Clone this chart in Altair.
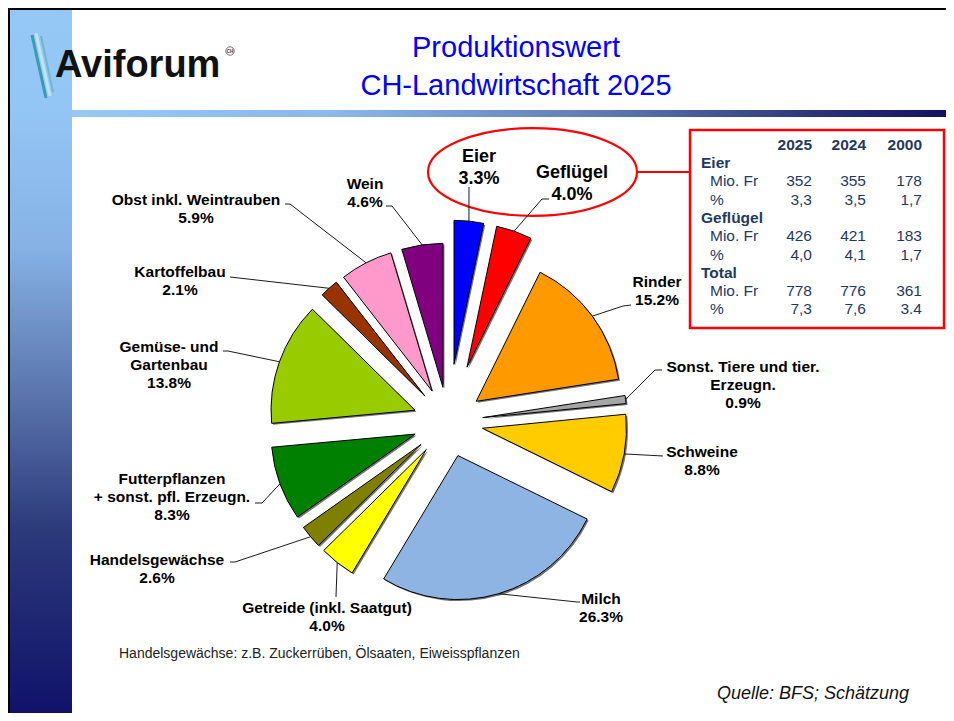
import altair as alt
import pandas as pd

# ---------------- data ----------------
categories = ["Eier", "Geflügel", "Rinder", "Sonst. Tiere und tier. Erzeugn.", "Schweine", "Milch",
              "Getreide (inkl. Saatgut)", "Handelsgewächse", "Futterpflanzen + sonst. pfl. Erzeugn.",
              "Gemüse- und Gartenbau", "Kartoffelbau", "Obst inkl. Weintrauben", "Wein"]
shares = [3.3, 4.0, 15.2, 0.9, 8.8, 26.3, 4.0, 2.6, 8.3, 13.8, 2.1, 5.9, 4.6]
label_names = ["Eier", "Geflügel", "Rinder", "Sonst. Tiere und tier.\nErzeugn.", "Schweine", "Milch",
               "Getreide (inkl. Saatgut)", "Handelsgewächse", "Futterpflanzen\n+ sonst. pfl. Erzeugn.",
               "Gemüse- und\nGartenbau", "Kartoffelbau", "Obst inkl. Weintrauben", "Wein"]

table_years = ["2025", "2024", "2000"]
table_groups = ["Eier", "Geflügel", "Total"]
table_units = ["Mio. Fr", "%"]
table_mio = [["352", "355", "178"], ["426", "421", "183"], ["778", "776", "361"]]
table_pct = [["3,3", "3,5", "1,7"], ["4,0", "4,1", "1,7"], ["7,3", "7,6", "3.4"]]

title_text = "Produktionswert\nCH-Landwirtschaft 2025"
footnote = "Handelsgewächse: z.B. Zuckerrüben, Ölsaaten, Eiweisspflanzen"
source = "Quelle: BFS; Schätzung"
logo = "Aviforum"

# ---------------- styles / layout ----------------
OFF = 8
W, H = 938, 705
slice_colors = ["#0000FF", "#FF0000", "#FF9900", "#A6A6A6", "#FFCC00", "#8DB4E2", "#FFFF00",
                "#808000", "#008000", "#99CC00", "#993300", "#FF99CC", "#800080"]
explode = [58, 58, 35, 35, 35, 35, 35, 35, 35, 35, 35, 35, 35]
big_label = [True, True] + [False] * 11
label_pos = [(479, 162), (572, 178), (657, 287), (743, 372), (702, 457), (601, 604), (327, 613),
             (157, 565), (172, 484), (169, 352), (180, 277), (196, 205), (365, 189)]
elbow_pos = [(469, 187), (542, 199), (623, 306), (655, 370), (663, 456), (577, 602), (336, 597),
             (235, 562), (262, 503), (228, 351), (230, 277), (290, 204), (392, 206)]
end_pos = [(469, 187), (549, 199), (631, 305), (662, 370), (663, 456), (580, 602), (336, 597),
           (230, 562), (255, 503), (223, 351), (230, 277), (285, 204), (386, 206)]
CX, CY, R = 448 - OFF, 422 - OFF, 144

pie_df = pd.DataFrame({
    "order": list(range(len(categories))),
    "category": categories,
    "share": shares,
    "label": [f"{n}\n{s:.1f}%" for n, s in zip(label_names, shares)],
    "color": slice_colors,
    "explode": explode,
    "big": big_label,
    "lx": [p[0] - OFF for p in label_pos], "ly": [p[1] - OFF for p in label_pos],
    "ex": [p[0] - OFF for p in elbow_pos], "ey": [p[1] - OFF for p in elbow_pos],
    "hx": [p[0] - OFF for p in end_pos], "hy": [p[1] - OFF for p in end_pos],
})

base = (
    alt.Chart(pie_df)
    .transform_window(cum="sum(share)", sort=[alt.SortField("order", order="ascending")], frame=[None, 0])
    .transform_joinaggregate(total="sum(share)")
    .transform_calculate(t0="2*PI*(datum.cum-datum.share)/datum.total",
                         t1="2*PI*datum.cum/datum.total")
    .transform_calculate(mid="(datum.t0+datum.t1)/2")
    .transform_calculate(cx=f"{CX}+datum.explode*sin(datum.mid)",
                         cy=f"{CY}-datum.explode*cos(datum.mid)",
                         sx=f"{CX}+(datum.explode+{R})*sin(datum.mid)",
                         sy=f"{CY}-(datum.explode+{R})*cos(datum.mid)")
)

pos = dict(x=alt.X("cx:Q", scale=None, axis=None), y=alt.Y("cy:Q", scale=None, axis=None),
           theta=alt.Theta("t0:Q", scale=None, stack=None), theta2="t1:Q")

shadow = base.mark_arc(radius=R, fill="#000000", opacity=0.55, xOffset=1.5, yOffset=1.5).encode(**pos)
arcs = base.mark_arc(radius=R, stroke="#000000", strokeWidth=1).encode(
    **pos, fill=alt.Fill("color:N", scale=None))

lead1 = base.mark_rule(color="#000000", strokeWidth=0.9).encode(
    x=alt.X("sx:Q", scale=None, axis=None), y=alt.Y("sy:Q", scale=None, axis=None),
    x2="ex:Q", y2="ey:Q")
lead2 = base.mark_rule(color="#000000", strokeWidth=0.9).encode(
    x=alt.X("ex:Q", scale=None, axis=None), y=alt.Y("ey:Q", scale=None, axis=None),
    x2="hx:Q", y2="hy:Q")

lab_enc = dict(x=alt.X("lx:Q", scale=None, axis=None), y=alt.Y("ly:Q", scale=None, axis=None),
               text="label:N")
labels_small = base.transform_filter("!datum.big").mark_text(
    font="Liberation Sans", fontWeight="bold", fontSize=15.5, lineHeight=18, lineBreak="\n",
    align="center", baseline="alphabetic", color="#000000").encode(**lab_enc)
labels_big = base.transform_filter("datum.big").mark_text(
    font="Liberation Sans", fontWeight="bold", fontSize=18, lineHeight=22, lineBreak="\n",
    align="center", baseline="alphabetic", color="#000000").encode(**lab_enc)

# ---------------- table ----------------
TC = "#1F3A60"
col_right = [812 - OFF, 866 - OFF, 922 - OFF]
rows = []
for j, yr in enumerate(table_years):
    rows.append({"t": yr, "x": col_right[j], "y": 150 - OFF, "kind": "bold_r"})
line = 0
for g, name in enumerate(table_groups):
    y0 = 168 + line * 18.3
    rows.append({"t": name, "x": 701 - OFF, "y": y0 - OFF, "kind": "bold_l"})
    line += 1
    for u, vals in zip(table_units, [table_mio[g], table_pct[g]]):
        y = 168 + line * 18.3
        rows.append({"t": u, "x": 710 - OFF, "y": y - OFF, "kind": "norm_l"})
        for j, v in enumerate(vals):
            rows.append({"t": v, "x": col_right[j], "y": y - OFF, "kind": "norm_r"})
        line += 1
table_df = pd.DataFrame(rows)

tbase = alt.Chart(table_df)
tenc = dict(x=alt.X("x:Q", scale=None, axis=None), y=alt.Y("y:Q", scale=None, axis=None), text="t:N")
tlayers = []
for kind, weight, align in [("bold_r", "bold", "right"), ("bold_l", "bold", "left"),
                            ("norm_l", "normal", "left"), ("norm_r", "normal", "right")]:
    tlayers.append(tbase.transform_filter(f"datum.kind == '{kind}'").mark_text(
        font="Liberation Sans", fontWeight=weight, fontSize=15.5, align=align,
        baseline="alphabetic", color=TC).encode(**tenc))

# ---------------- decorations ----------------
one = pd.DataFrame({"k": [0]})


def rect(x, x2, y, y2, **kw):
    return alt.Chart(one).mark_rect(**kw).encode(
        x=alt.value(x), x2=alt.value(x2), y=alt.value(y), y2=alt.value(y2))


def rule(x, y, x2, y2, **kw):
    return alt.Chart(one).mark_rule(**kw).encode(
        x=alt.value(x), y=alt.value(y), x2=alt.value(x2), y2=alt.value(y2))


def text(x, y, s, **kw):
    return alt.Chart(one).mark_text(**kw).encode(x=alt.value(x), y=alt.value(y), text=alt.value(s))


left_grad = alt.LinearGradient(
    gradient="linear", x1=0, x2=0, y1=0, y2=1,
    stops=[alt.GradientStop(color="#96C8F6", offset=0.0),
           alt.GradientStop(color="#94C6F5", offset=0.14),
           alt.GradientStop(color="#86B2E6", offset=0.34),
           alt.GradientStop(color="#5A74AD", offset=0.55),
           alt.GradientStop(color="#2C3A7A", offset=0.74),
           alt.GradientStop(color="#10126A", offset=1.0)])
top_grad = alt.LinearGradient(
    gradient="linear", x1=0, x2=1, y1=0, y2=0,
    stops=[alt.GradientStop(color="#96C8F6", offset=0.0),
           alt.GradientStop(color="#8AB8E8", offset=0.3),
           alt.GradientStop(color="#5F7CB2", offset=0.6),
           alt.GradientStop(color="#2A3577", offset=0.85),
           alt.GradientStop(color="#12125F", offset=1.0)])

deco = [
    rect(0, W, 0, H, fill="#FFFFFF", strokeWidth=0),
    rect(2, 64, 0, H, fill=left_grad, strokeWidth=0),
    rect(64, W, 102, 109, fill=top_grad, strokeWidth=0),
    rect(0, W, 0, 2, fill="#000000", strokeWidth=0),
    rect(0, 2, 0, H, fill="#000000", strokeWidth=0),
    # feather-like strokes of the logo
    rule(24, 27, 38, 90, color="#3A9BB0", strokeWidth=3),
    rule(28, 25, 42, 88, color="#BFE3F0", strokeWidth=3),
    rule(33, 28, 45, 84, color="#6DB8CC", strokeWidth=2),
    text(47, 69, logo, font="Liberation Sans", fontWeight="bold",
         fontSize=38, align="left", baseline="alphabetic", color="#111111"),
    alt.Chart(one).mark_point(shape="circle", size=70, filled=False, stroke="#333333",
                              strokeWidth=1).encode(x=alt.value(230 - OFF), y=alt.value(51 - OFF)),
    text(230 - OFF, 53 - OFF, "CH", font="Liberation Sans", fontWeight="bold", fontSize=4.5,
         align="center", baseline="alphabetic", color="#333333"),
    text(516 - OFF, 57 - OFF, title_text, font="Liberation Sans", fontSize=29, lineHeight=38,
         lineBreak="\n", align="center", baseline="alphabetic", color="#0000FF"),
    # table box and ellipse highlight
    rect(690 - OFF, 944 - OFF, 130 - OFF, 328 - OFF, fill="#FFFFFF", stroke="#FF0000", strokeWidth=2.5),
    rule(637 - OFF, 172 - OFF, 690 - OFF, 172 - OFF, color="#FF0000", strokeWidth=2),
    alt.Chart(one).mark_point(
        shape=("M -1 0 C -1 -0.232 -0.552 -0.42 0 -0.42 C 0.552 -0.42 1 -0.232 1 0 "
               "C 1 0.232 0.552 0.42 0 0.42 C -0.552 0.42 -1 0.232 -1 0 Z"),
        size=209 * 209, filled=False, stroke="#FF0000", strokeWidth=2.2, opacity=1
    ).encode(x=alt.value(532.5 - OFF), y=alt.value(172 - OFF)),
    text(119 - OFF, 658 - OFF, footnote, font="Liberation Sans", fontSize=14, align="left",
         baseline="alphabetic", color="#222222"),
    text(717 - OFF, 699 - OFF, source, font="Liberation Sans", fontSize=18, fontStyle="italic",
         align="left", baseline="alphabetic", color="#111111"),
]

chart = alt.layer(
    *deco, *tlayers, shadow, arcs, lead1, lead2, labels_small, labels_big
).properties(
    width=W, height=H, padding=0, autosize=alt.AutoSizeParams(type="none")
).configure_view(stroke=None)

chart.save("out.html", embed_options={"renderer": "svg", "actions": False})
